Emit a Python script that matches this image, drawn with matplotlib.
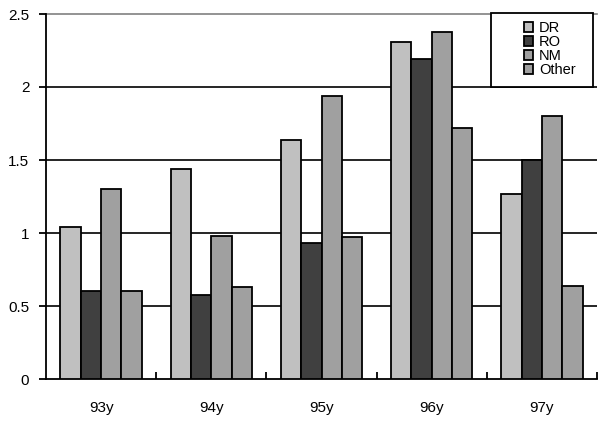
import numpy as np
import matplotlib.pyplot as plt
from matplotlib.patches import Rectangle

plt.rcParams['font.family'] = ['Liberation Sans', 'DejaVu Sans']

years = ['93y', '94y', '95y', '96y', '97y']
series = ['DR', 'RO', 'NM', 'Other']
dr = [1.04, 1.44, 1.64, 2.31, 1.27]
ro = [0.60, 0.575, 0.93, 2.19, 1.50]
nm = [1.30, 0.98, 1.94, 2.38, 1.80]
other = [0.60, 0.63, 0.97, 1.72, 0.64]
colors = ['#c0c0c0', '#404040', '#a0a0a0', '#a0a0a0']

fig = plt.figure(figsize=(5.99, 4.23), dpi=100)
ax = fig.add_axes([46/599, 44/423, 551/599, 365/423])

x = np.arange(len(years)) + 0.5
w = 0.185
handles = []
for i, (vals, c) in enumerate(zip([dr, ro, nm, other], colors)):
    b = ax.bar(x + (i - 1.5) * w, vals, w, color=c, edgecolor='black',
               linewidth=1.3, zorder=3, label=series[i])
    handles.append(b)

ax.set_xlim(0, 5)
ax.set_ylim(0, 2.5)
ax.set_yticks([0, 0.5, 1, 1.5, 2, 2.5])
ax.set_yticklabels(['0', '0.5', '1', '1.5', '2', '2.5'])
ax.set_xticks(x)
ax.set_xticklabels(years)
ax.set_xticks([1, 2, 3, 4, 5], minor=True)
ax.tick_params(axis='x', which='major', length=0, pad=16, labelsize=11)
ax.tick_params(axis='x', which='minor', direction='in', length=5, width=1.3)
ax.tick_params(axis='y', direction='out', length=5, width=1.3, pad=7, labelsize=11)

for v in [0.5, 1, 1.5, 2]:
    ax.axhline(v, color='black', linewidth=1.2, zorder=1)
ax.axhline(2.5, color='#808080', linewidth=1.2, zorder=1, clip_on=False)

ax.spines['top'].set_visible(False)
ax.spines['right'].set_visible(False)
ax.spines['left'].set_linewidth(1.3)
ax.spines['bottom'].set_linewidth(1.3)

# legend frame drawn by hand
fig.patches.append(Rectangle((491/599, 1 - 87/423), 102/599, 74/423,
                             transform=fig.transFigure, facecolor='white',
                             edgecolor='black', linewidth=1.3, zorder=5))
leg = fig.legend(handles=handles, labels=series, loc='upper left',
                 bbox_to_anchor=(514/599, 1 - 11/423), frameon=False,
                 fontsize=10.5, handlelength=0.6, handleheight=0.6,
                 handletextpad=0.4, labelspacing=0.0, borderpad=0.2)
leg.set_zorder(6)

fig.savefig('out.png', dpi=100)
